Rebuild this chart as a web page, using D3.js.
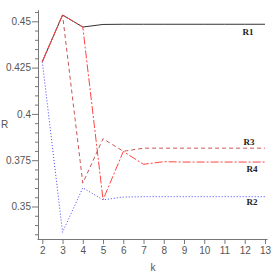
<!DOCTYPE html>
<html><head><meta charset="utf-8">
<script src="https://cdn.jsdelivr.net/npm/d3@7"></script>
<style>body{margin:0;background:#fff}svg{display:block}</style>
</head><body>
<svg id="c" width="277" height="277"></svg>
<script>
const k = [2,3,4,5,6,7,8,9,10,11,12,13];
const R1 = [0.4282,0.4534,0.4469,0.4483,0.4484,0.4484,0.4484,0.4484,0.4484,0.4484,0.4484,0.4484];
const R2 = [0.4282,0.3361,0.3601,0.3536,0.3551,0.3553,0.3553,0.3553,0.3553,0.3553,0.3553,0.3553];
const R3 = [0.4282,0.4534,0.3626,0.3866,0.3798,0.3815,0.3815,0.3815,0.3815,0.3815,0.3815,0.3815];
const R4 = [0.4282,0.4534,0.4469,0.3536,0.3797,0.3728,0.3742,0.3740,0.3740,0.3740,0.3740,0.3740];
const xTicks = [2,3,4,5,6,7,8,9,10,11,12,13];
const yTicks = [0.35,0.375,0.4,0.425,0.45];
const yTickLabels = ["0.35","0.375","0.4","0.425","0.45"];
const seriesNames = ["R1","R2","R3","R4"];

const svg = d3.select("#c");
const x = d3.scaleLinear().domain([1.738,13.1]).range([37,267]);
const y = d3.scaleLinear().domain([0.33245,0.4561]).range([239,10]);
const axisCol = "#777";

// x axis
const gx = svg.append("g").attr("transform","translate(0,239)")
  .call(d3.axisBottom(x).tickValues(xTicks).tickSize(5).tickSizeOuter(0).tickFormat(d=>String(d)));
gx.select(".domain").attr("stroke",axisCol);
gx.selectAll(".tick line").attr("stroke",axisCol);
gx.selectAll(".tick text").attr("fill","#555").attr("font-family","Liberation Sans, Arial, sans-serif").attr("font-size",10).attr("dy","0.85em").attr("y",6);

// y axis minor
const minor = d3.range(0.335,0.4551,0.005).map(v=>+v.toFixed(3)).filter(v=>!yTicks.some(t=>Math.abs(t-v)<1e-6));
const gym = svg.append("g").attr("transform","translate(38,0)")
  .call(d3.axisLeft(y).tickValues(minor).tickSize(3).tickSizeOuter(0).tickFormat(""));
gym.select(".domain").attr("stroke",axisCol);
gym.selectAll(".tick line").attr("stroke",axisCol);
const gy = svg.append("g").attr("transform","translate(38,0)")
  .call(d3.axisLeft(y).tickValues(yTicks).tickSize(6).tickSizeOuter(0).tickFormat((d,i)=>yTickLabels[i]));
gy.select(".domain").attr("stroke",axisCol);
gy.selectAll(".tick line").attr("stroke",axisCol);
gy.selectAll(".tick text").attr("fill","#555").attr("font-family","Liberation Sans, Arial, sans-serif").attr("font-size",10).attr("x",-7);

// axis titles
svg.append("text").attr("x",1).attr("y",128).attr("fill","#555").attr("font-family","Liberation Sans, Arial, sans-serif").attr("font-size",10).text("R");
svg.append("text").attr("x",153).attr("y",271).attr("text-anchor","middle").attr("fill","#555").attr("font-family","Liberation Sans, Arial, sans-serif").attr("font-size",10).text("k");

const line = d3.line().x((d,i)=>x(k[i])).y(d=>y(d));
const styles = [
  {data:R1, color:"#333", dash:null, w:1},
  {data:R2, color:"#4444ff", dash:"1,2", w:1},
  {data:R3, color:"#cc5555", dash:"4,3", w:1},
  {data:R4, color:"#ff4444", dash:"8,2,2,2", w:1}
];
styles.forEach(s=>{
  svg.append("path").attr("d",line(s.data)).attr("fill","none").attr("stroke",s.color)
    .attr("stroke-width",s.w).attr("stroke-dasharray",s.dash);
});

// series labels
const labelPos = [[248,35,0],[252,205,1],[249,145,2],[252,172,3]];
labelPos.forEach(p=>{
  svg.append("text").attr("x",p[0]).attr("y",p[1]).attr("text-anchor","middle")
    .attr("font-family","Liberation Serif, Times New Roman, serif").attr("font-weight","bold")
    .attr("font-size",9).attr("fill","#222").text(seriesNames[p[2]]);
});
</script>
</body></html>
